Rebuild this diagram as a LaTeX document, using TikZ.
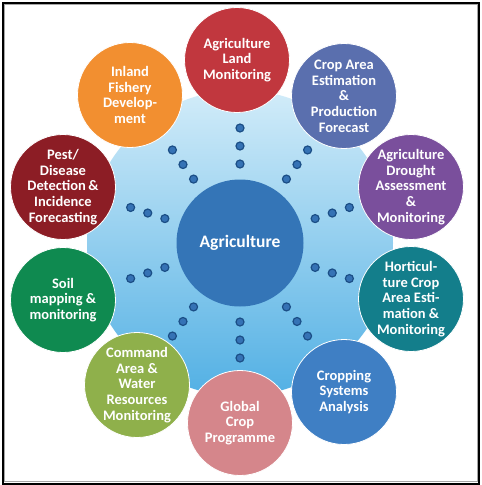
\documentclass[tikz,border=0pt]{standalone}
\usepackage{fontspec}
\setmainfont{Carlito}
\usetikzlibrary{calc}
\definecolor{bgtop}{HTML}{D2ECF9}
\definecolor{bgbot}{HTML}{52B0E4}
\definecolor{cland}{HTML}{C1373E}
\definecolor{ccrop}{HTML}{5A6FAE}
\definecolor{cdrought}{HTML}{7A4F9C}
\definecolor{chorti}{HTML}{137E8B}
\definecolor{ccropping}{HTML}{3F7FC4}
\definecolor{cglobal}{HTML}{D5868B}
\definecolor{ccommand}{HTML}{8FB04B}
\definecolor{csoil}{HTML}{0F8A50}
\definecolor{cpest}{HTML}{8C1D25}
\definecolor{cinland}{HTML}{F28F30}
\definecolor{ccenter}{HTML}{3475B7}
\definecolor{dotblue}{HTML}{3572B5}
\definecolor{dotedge}{HTML}{1B4E86}
\begin{document}
\begin{tikzpicture}[x=1pt,y=-1pt,
  sat/.style={circle, minimum size=105pt, inner sep=0pt, draw=white, line width=0.8pt,
    text=white, font=\fontsize{14.5}{15.7}\selectfont\bfseries, align=center},
  hub/.style={circle, minimum size=127pt, inner sep=0pt, fill=ccenter,
    text=white, font=\fontsize{17.5}{20}\selectfont\bfseries},
  spot/.style={circle, minimum size=8pt, inner sep=0pt, fill=dotblue, draw=dotedge, line width=1.2pt}]
\useasboundingbox (0,0) rectangle (482,485);
\fill[white] (0,0) rectangle (482,485);
\draw[gray!70, line width=1pt] (4.5,4.5) rectangle (477,481.5);
\draw[black, line width=2pt] (2.5,2.5) rectangle (479,483.5);
% background
\shade[top color=bgtop, bottom color=bgbot] (240,243) circle[radius=153];
% dots
\foreach \a [count=\i] in {90,54,18,-18,-54,-90,-126,-162,162,126}{
  \foreach \r [count=\j] in {79,97,115}{
    \node[spot] (d\i-\j) at ($(240,243)+(\a:\r)$) {};
  }
}
\node[hub] (center) at (240,243) {Agriculture};
\node[sat, fill=cland] (land) at (237,60) {Agriculture\\Land\\Monitoring};
\node[sat, fill=ccrop] (crop) at (344,96) {Crop Area\\Estimation\\\&\\Production\\Forecast};
\node[sat, fill=cdrought] (drought) at (411,187) {Agriculture\\Drought\\Assessment\\\&\\Monitoring};
\node[sat, fill=chorti] (horti) at (411,299) {Horticul-\\ture Crop\\Area Esti-\\mation \&\\Monitoring};
\node[sat, fill=ccropping] (cropping) at (344,392) {Cropping\\Systems\\Analysis};
\node[sat, fill=cglobal] (global) at (240,423) {Global\\Crop\\Programme};
\node[sat, fill=ccommand] (command) at (137,385) {Command\\Area \&\\Water\\Resources\\Monitoring};
\node[sat, fill=csoil] (soil) at (63,300) {Soil\\mapping \&\\monitoring};
\node[sat, fill=cpest] (pest) at (63,187) {Pest/\\Disease\\Detection\,\&\\Incidence\\Forecasting};
\node[sat, fill=cinland] (inland) at (130,95) {Inland\\Fishery\\Develop-\\ment};
\end{tikzpicture}
\end{document}
